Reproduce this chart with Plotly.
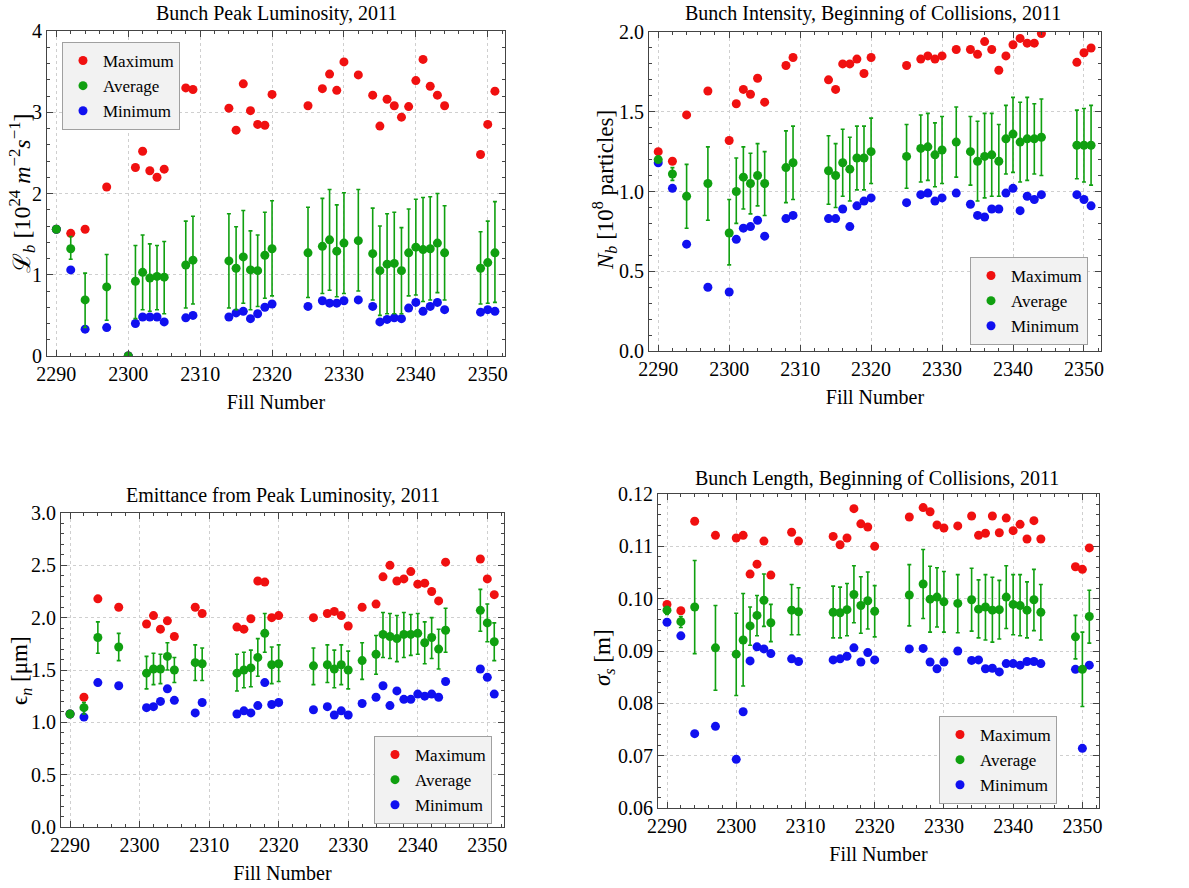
import plotly.graph_objects as go

fills = [2290, 2292, 2294, 2297, 2300, 2301, 2302, 2303, 2304, 2305, 2308, 2309,
         2314, 2315, 2316, 2317, 2318, 2319, 2320, 2325, 2327, 2328, 2329, 2330,
         2332, 2334, 2335, 2336, 2337, 2338, 2339, 2340, 2341, 2342, 2343, 2344,
         2349, 2350, 2351]

# Bunch peak luminosity [10^24 m^-2 s^-1]
lum_max = [1.56, 1.51, 1.56, 2.08, 0.0, 2.32, 2.52, 2.28, 2.20, 2.30, 3.30, 3.28,
           3.05, 2.78, 3.35, 3.02, 2.85, 2.84, 3.22, 3.08, 3.29, 3.47, 3.27, 3.62,
           3.46, 3.21, 2.83, 3.16, 3.08, 2.94, 3.07, 3.39, 3.65, 3.32, 3.21, 3.08,
           2.48, 2.85, 3.26]
lum_avg = [1.56, 1.32, 0.69, 0.85, 0.0, 0.92, 1.03, 0.96, 0.98, 0.97, 1.12, 1.18,
           1.17, 1.08, 1.22, 1.06, 1.05, 1.24, 1.32, 1.27, 1.35, 1.43, 1.29, 1.39,
           1.42, 1.26, 1.05, 1.13, 1.14, 1.05, 1.27, 1.34, 1.31, 1.32, 1.39, 1.27,
           1.08, 1.15, 1.27]
lum_hi = [1.56, 1.47, 1.02, 1.25, 0.0, 1.36, 1.49, 1.38, 1.36, 1.41, 1.66, 1.72,
          1.75, 1.59, 1.79, 1.54, 1.49, 1.77, 1.91, 1.83, 1.94, 2.05, 1.86, 2.01,
          2.05, 1.82, 1.60, 1.75, 1.77, 1.58, 1.81, 1.93, 1.95, 1.96, 2.00, 1.85,
          1.53, 1.66, 1.90]
lum_lo = [1.56, 1.19, 0.35, 0.44, 0.0, 0.46, 0.57, 0.55, 0.57, 0.52, 0.59, 0.64,
          0.59, 0.57, 0.65, 0.57, 0.61, 0.71, 0.74, 0.72, 0.77, 0.81, 0.73, 0.77,
          0.80, 0.69, 0.50, 0.52, 0.52, 0.52, 0.74, 0.75, 0.67, 0.69, 0.78, 0.69,
          0.64, 0.65, 0.66]
lum_min = [1.56, 1.06, 0.33, 0.35, 0.0, 0.40, 0.48, 0.48, 0.48, 0.42, 0.47, 0.50,
           0.48, 0.53, 0.55, 0.46, 0.52, 0.60, 0.64, 0.61, 0.68, 0.65, 0.65, 0.68,
           0.69, 0.61, 0.42, 0.45, 0.47, 0.46, 0.59, 0.66, 0.55, 0.61, 0.66, 0.57,
           0.54, 0.57, 0.55]

# Bunch intensity [10^8 particles]
int_max = [1.25, 1.19, 1.48, 1.63, 1.32, 1.55, 1.64, 1.61, 1.71, 1.56, 1.79, 1.84,
           1.70, 1.64, 1.80, 1.80, 1.83, 1.74, 1.84, 1.79, 1.83, 1.85, 1.83, 1.85,
           1.89, 1.89, 1.86, 1.94, 1.89, 1.76, 1.85, 1.92, 1.96, 1.93, 1.93, 1.99,
           1.81, 1.87, 1.90]
int_avg = [1.20, 1.11, 0.97, 1.05, 0.74, 1.00, 1.09, 1.05, 1.10, 1.05, 1.15, 1.18,
           1.13, 1.10, 1.18, 1.14, 1.21, 1.21, 1.25, 1.22, 1.27, 1.28, 1.23, 1.26,
           1.31, 1.25, 1.19, 1.22, 1.23, 1.19, 1.33, 1.36, 1.31, 1.33, 1.33, 1.34,
           1.29, 1.29, 1.29]
int_hi = [1.20, 1.15, 1.17, 1.28, 0.95, 1.21, 1.28, 1.24, 1.30, 1.25, 1.38, 1.41,
          1.35, 1.30, 1.39, 1.34, 1.41, 1.41, 1.46, 1.42, 1.48, 1.49, 1.43, 1.47,
          1.53, 1.47, 1.44, 1.49, 1.49, 1.42, 1.54, 1.59, 1.56, 1.59, 1.55, 1.58,
          1.51, 1.52, 1.54]
int_lo = [1.20, 1.07, 0.77, 0.82, 0.54, 0.80, 0.89, 0.86, 0.91, 0.85, 0.93, 0.95,
          0.92, 0.90, 0.97, 0.94, 1.01, 1.01, 1.05, 1.02, 1.06, 1.07, 1.03, 1.05,
          1.09, 1.04, 0.94, 0.96, 0.97, 0.97, 1.11, 1.12, 1.06, 1.07, 1.11, 1.10,
          1.08, 1.06, 1.04]
int_min = [1.18, 1.02, 0.67, 0.40, 0.37, 0.70, 0.77, 0.78, 0.82, 0.72, 0.83, 0.85,
           0.83, 0.83, 0.89, 0.78, 0.91, 0.94, 0.96, 0.93, 0.98, 0.99, 0.94, 0.96,
           0.99, 0.92, 0.85, 0.84, 0.89, 0.89, 0.99, 1.02, 0.88, 0.97, 0.95, 0.98,
           0.98, 0.95, 0.91]

# Emittance from peak luminosity [um]
emi_max = [1.08, 1.24, 2.18, 2.10, None, 1.94, 2.02, 1.89, 1.97, 1.82, 2.10, 2.04,
           1.91, 1.89, 1.99, 2.35, 2.34, 2.00, 2.02, 2.00, 2.04, 2.06, 2.02, 1.92,
           2.10, 2.13, 2.39, 2.50, 2.35, 2.37, 2.44, 2.32, 2.33, 2.25, 2.16, 2.53,
           2.56, 2.37, 2.22]
emi_avg = [1.08, 1.14, 1.81, 1.72, None, 1.47, 1.51, 1.51, 1.63, 1.50, 1.57, 1.56,
           1.47, 1.50, 1.52, 1.62, 1.85, 1.55, 1.56, 1.54, 1.55, 1.51, 1.55, 1.50,
           1.59, 1.65, 1.84, 1.82, 1.80, 1.84, 1.84, 1.85, 1.76, 1.81, 1.70, 1.88,
           2.07, 1.95, 1.77]
emi_hi = [1.08, 1.19, 1.96, 1.85, None, 1.63, 1.66, 1.65, 1.76, 1.62, 1.74, 1.71,
          1.65, 1.67, 1.69, 1.80, 2.04, 1.72, 1.74, 1.71, 1.74, 1.69, 1.74, 1.68,
          1.76, 1.83, 2.05, 2.04, 2.02, 2.05, 2.03, 2.04, 1.96, 2.00, 1.89, 2.09,
          2.27, 2.13, 1.95]
emi_lo = [1.08, 1.08, 1.66, 1.59, None, 1.32, 1.36, 1.37, 1.50, 1.38, 1.40, 1.40,
          1.30, 1.33, 1.34, 1.44, 1.67, 1.37, 1.39, 1.36, 1.38, 1.33, 1.36, 1.32,
          1.41, 1.46, 1.62, 1.61, 1.58, 1.62, 1.64, 1.65, 1.56, 1.61, 1.51, 1.67,
          1.87, 1.77, 1.59]
emi_min = [1.08, 1.05, 1.38, 1.35, None, 1.14, 1.15, 1.20, 1.32, 1.21, 1.09, 1.19,
           1.08, 1.11, 1.09, 1.16, 1.38, 1.17, 1.19, 1.12, 1.15, 1.07, 1.11, 1.07,
           1.18, 1.24, 1.35, 1.16, 1.30, 1.22, 1.22, 1.27, 1.25, 1.27, 1.24, 1.39,
           1.51, 1.43, 1.27]

# Bunch length [m]
len_max = [0.0989, 0.0977, 0.1148, 0.1121, 0.1116, 0.1121, 0.1047, 0.1066, 0.1110,
           0.1045, 0.1127, 0.1110, 0.1119, 0.1103, 0.1116, 0.1172, 0.1143, 0.1137,
           0.1100, 0.1156, 0.1174, 0.1166, 0.1141, 0.1135, 0.1139, 0.1158, 0.1121,
           0.1125, 0.1158, 0.1126, 0.1154, 0.1130, 0.1142, 0.1114, 0.1149, 0.1114,
           0.1061, 0.1056, 0.1097]
len_avg = [0.0978, 0.0956, 0.0984, 0.0906, 0.0894, 0.0921, 0.0948, 0.0968, 0.0997,
           0.0954, 0.0978, 0.0975, 0.0974, 0.0973, 0.0979, 0.1008, 0.0987, 0.0996,
           0.0976, 0.1007, 0.1028, 0.0999, 0.1003, 0.0994, 0.0991, 0.0998, 0.0980,
           0.0984, 0.0978, 0.0979, 0.1003, 0.0989, 0.0987, 0.0978, 0.0998, 0.0974,
           0.0927, 0.0865, 0.0966]
len_hi = [0.0985, 0.0966, 0.1073, 0.0987, 0.0972, 0.1010, 0.0984, 0.1006, 0.1047,
          0.0989, 0.1027, 0.1021, 0.1024, 0.1022, 0.1029, 0.1063, 0.1042, 0.1051,
          0.1025, 0.1065, 0.1094, 0.1062, 0.1059, 0.1052, 0.1046, 0.1058, 0.1036,
          0.1046, 0.1041, 0.1035, 0.1063, 0.1046, 0.1046, 0.1032, 0.1056, 0.1027,
          0.0968, 0.0936, 0.1016]
len_lo = [0.0970, 0.0945, 0.0895, 0.0825, 0.0815, 0.0833, 0.0911, 0.0929, 0.0947,
          0.0918, 0.0931, 0.0931, 0.0925, 0.0925, 0.0929, 0.0954, 0.0934, 0.0942,
          0.0927, 0.0948, 0.0962, 0.0936, 0.0946, 0.0936, 0.0935, 0.0938, 0.0925,
          0.0921, 0.0917, 0.0923, 0.0943, 0.0931, 0.0929, 0.0925, 0.0939, 0.0921,
          0.0885, 0.0794, 0.0915]
len_min = [0.0955, 0.0929, 0.0742, 0.0756, 0.0693, 0.0784, 0.0881, 0.0908, 0.0904,
           0.0895, 0.0885, 0.0880, 0.0883, 0.0885, 0.0890, 0.0906, 0.0879, 0.0897,
           0.0883, 0.0904, 0.0905, 0.0879, 0.0866, 0.0879, 0.0900, 0.0882, 0.0883,
           0.0866, 0.0867, 0.0860, 0.0876, 0.0876, 0.0873, 0.0880, 0.0880, 0.0876,
           0.0865, 0.0714, 0.0873]

titles = ["Bunch Peak Luminosity, 2011",
          "Bunch Intensity, Beginning of Collisions, 2011",
          "Emittance from Peak Luminosity, 2011",
          "Bunch Length, Beginning of Collisions, 2011"]
ytitles = ["ℒ<sub><i>b</i></sub> [10<sup>24</sup> <i>m</i><sup>−2</sup><i>s</i><sup>−1</sup>]",
           "<i>N<sub>b</sub></i> [10<sup>8</sup> particles]",
           "ϵ<sub><i>n</i></sub> [μm]",
           "<i>σ<sub>s</sub></i> [m]"]

RED = "#f01010"
GREEN = "#10a010"
BLUE = "#1010f0"
FONT = "Liberation Serif"
W, H = 1189, 888

panels = [
    dict(data=(lum_max, lum_avg, lum_hi, lum_lo, lum_min),
         px=(47, 505), py=(31, 356), yr=[0, 4], dt=1, mdt=0.2, fmt=None,
         leg=(62, 42, "left"), tpos=(276, 13), ypos=(22, 193), ysz=24),
    dict(data=(int_max, int_avg, int_hi, int_lo, int_min),
         px=(649, 1101), py=(32, 351), yr=[0, 2], dt=0.5, mdt=0.1, fmt=".1f",
         leg=(1088, 257, "right"), tpos=(873, 13), ypos=(604, 190), ysz=23),
    dict(data=(emi_max, emi_avg, emi_hi, emi_lo, emi_min),
         px=(61, 504), py=(513, 827), yr=[0, 3], dt=0.5, mdt=0.1, fmt=".1f",
         leg=(492, 736, "right"), tpos=(283, 495), ypos=(21, 671), ysz=23),
    dict(data=(len_max, len_avg, len_hi, len_lo, len_min),
         px=(658, 1099), py=(494, 808), yr=[0.06, 0.12], dt=0.01, mdt=0.002, fmt=".2f",
         leg=(1057, 716, "right"), tpos=(877, 478), ypos=(604, 658), ysz=23),
]

fig = go.Figure()
layout = dict(width=W, height=H, margin=dict(l=0, r=0, t=0, b=0, autoexpand=False),
              paper_bgcolor="white", plot_bgcolor="white",
              font=dict(family=FONT, size=20, color="black"),
              showlegend=True, annotations=[])


def diff(a, b):
    return [None if (x is None or y is None) else round(x - y, 6) for x, y in zip(a, b)]


for i, p in enumerate(panels):
    k = "" if i == 0 else str(i + 1)
    xa, ya = "x" + k, "y" + k
    lg = "legend" + k
    mx, av, hi, lo, mn = p["data"]
    common = dict(x=fills, xaxis=xa, yaxis=ya, mode="markers", legend=lg)
    fig.add_trace(go.Scatter(y=mx, name="Maximum", legendrank=1,
                             marker=dict(color=RED, size=9), **common))
    fig.add_trace(go.Scatter(y=mn, name="Minimum", legendrank=3,
                             marker=dict(color=BLUE, size=9), **common))
    fig.add_trace(go.Scatter(y=av, name="Average", legendrank=2,
                             marker=dict(color=GREEN, size=9),
                             error_y=dict(type="data", symmetric=False,
                                          array=diff(hi, av), arrayminus=diff(av, lo),
                                          color=GREEN, thickness=1.6, width=2),
                             **common))
    dom_x = [p["px"][0] / W, p["px"][1] / W]
    dom_y = [1 - p["py"][1] / H, 1 - p["py"][0] / H]
    axis_common = dict(showline=True, linecolor="#444444", linewidth=1, mirror="allticks",
                       ticks="inside", ticklen=6, tickcolor="#444444", automargin=False,
                       showgrid=True, gridcolor="#cfcfcf", griddash="3px,3px", gridwidth=1,
                       zeroline=False, tickfont=dict(family=FONT, size=20, color="black"))
    layout["xaxis" + k] = dict(domain=dom_x, anchor=ya, range=[2288.7, 2352.4],
                               tick0=2290, dtick=10,
                               minor=dict(ticks="inside", ticklen=3, dtick=2, tick0=2290,
                                          tickcolor="#444444", showgrid=False),
                               title=dict(text="Fill Number", standoff=10,
                                          font=dict(family=FONT, size=20)),
                               **axis_common)
    ydict = dict(domain=dom_y, anchor=xa, range=p["yr"], tick0=p["yr"][0], dtick=p["dt"],
                 minor=dict(ticks="inside", ticklen=3, dtick=p["mdt"], tick0=p["yr"][0],
                            tickcolor="#444444", showgrid=False),
                 **axis_common)
    if p["fmt"]:
        ydict["tickformat"] = p["fmt"]
    layout["yaxis" + k] = ydict
    layout[lg] = dict(x=p["leg"][0] / W, y=1 - p["leg"][1] / H, xanchor=p["leg"][2],
                      yanchor="top", xref="paper", yref="paper",
                      bgcolor="#f2f2f2", bordercolor="#a0a0a0", borderwidth=1,
                      font=dict(family=FONT, size=17, color="black"),
                      itemclick=False, tracegroupgap=0)
    layout["annotations"].append(dict(text=titles[i], x=p["tpos"][0] / W, y=1 - p["tpos"][1] / H,
                                      xref="paper", yref="paper", xanchor="center",
                                      yanchor="middle", showarrow=False,
                                      font=dict(family=FONT, size=20, color="black")))
    layout["annotations"].append(dict(text=ytitles[i], x=p["ypos"][0] / W, y=1 - p["ypos"][1] / H,
                                      xref="paper", yref="paper", xanchor="center",
                                      yanchor="middle", showarrow=False, textangle=-90,
                                      font=dict(family=FONT, size=p["ysz"], color="black")))

fig.update_layout(**layout)
fig.write_html("out.html")
